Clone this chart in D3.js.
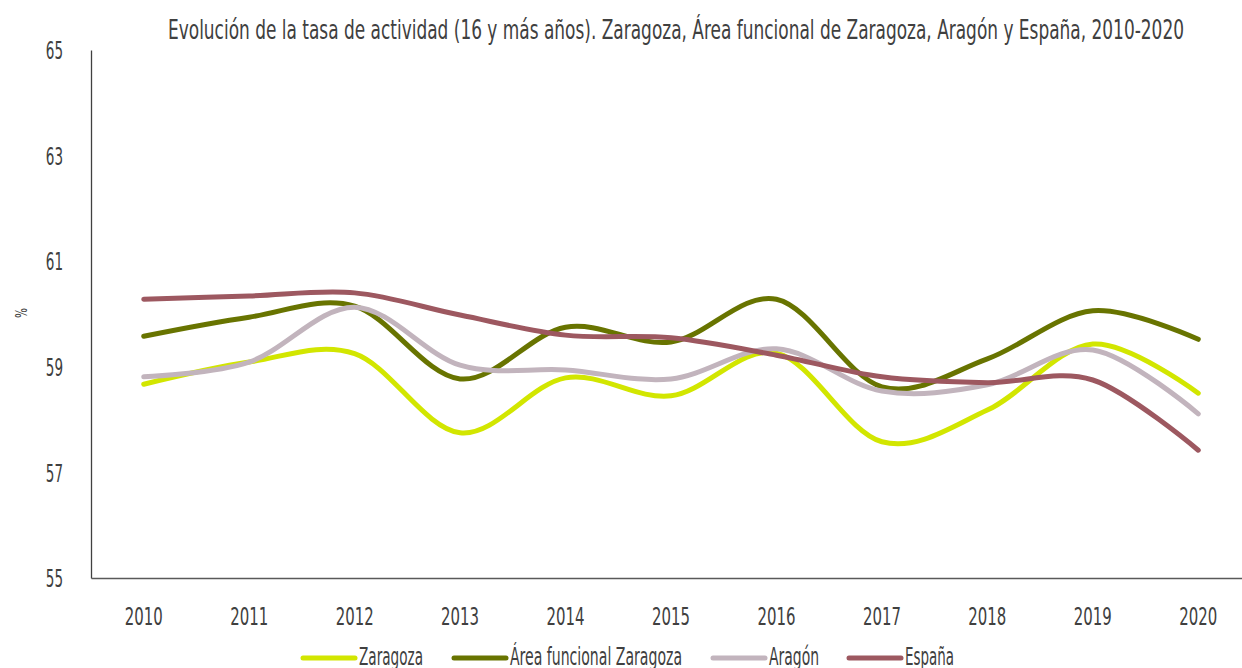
<!DOCTYPE html>
<html>
<head>
<meta charset="utf-8">
<script src="https://cdn.jsdelivr.net/npm/d3@7"></script>
<style>
  body { margin: 0; background: #fff; }
  svg text { font-family: "DejaVu Sans Condensed", "DejaVu Sans", sans-serif; font-stretch: condensed; fill: #404040; }
</style>
</head>
<body>
<svg id="chart" width="1242" height="668"></svg>
<script>
const years = ["2010", "2011", "2012", "2013", "2014", "2015", "2016", "2017", "2018", "2019", "2020"];
const zaragoza = [58.67, 59.09, 59.25, 57.75, 58.79, 58.45, 59.26, 57.58, 58.18, 59.43, 58.50];
const areaFuncional = [59.58, 59.94, 60.15, 58.77, 59.75, 59.47, 60.28, 58.62, 59.15, 60.06, 59.52];
const aragon = [58.81, 59.09, 60.13, 59.03, 58.94, 58.77, 59.34, 58.54, 58.66, 59.32, 58.11];
const espana = [60.28, 60.34, 60.40, 59.98, 59.60, 59.55, 59.22, 58.81, 58.70, 58.75, 57.42];
const yTicks = [55, 57, 59, 61, 63, 65];

const series = [
  { name: "Zaragoza", values: zaragoza, color: "#d2e600" },
  { name: "Área funcional Zaragoza", values: areaFuncional, color: "#687400" },
  { name: "Aragón", values: aragon, color: "#c2b4bd" },
  { name: "España", values: espana, color: "#9d5860" }
];

const svg = d3.select("#chart");

const x = d3.scaleBand().domain(years).range([91, 1251]);
const y = d3.scaleLinear().domain([55, 65]).range([578, 50]);

// narrow the text to match the condensed original font
const squeeze = (sel, perChar) => sel
  .attr("textLength", function() { return this.textContent.length * perChar; })
  .attr("lengthAdjust", "spacingAndGlyphs");

// title
svg.append("text")
  .attr("x", 168).attr("y", 39)
  .style("font-size", "27px")
  .attr("textLength", 1016)
  .attr("lengthAdjust", "spacingAndGlyphs")
  .text("Evolución de la tasa de actividad (16 y más años). Zaragoza, Área funcional de Zaragoza, Aragón y España, 2010-2020");

// y axis
const yAxis = svg.append("g")
  .attr("transform", "translate(91,0)")
  .call(d3.axisLeft(y).tickValues(yTicks).tickSize(0).tickPadding(28));
yAxis.select(".domain").attr("stroke", "#404040").attr("stroke-width", 1.3);
yAxis.selectAll("text")
  .style("font-size", "24px")
  .attr("fill", "#404040")
  .attr("dy", "0.36em")
  .call(squeeze, 8.6);

svg.append("text")
  .attr("transform", "translate(27,313) rotate(-90)")
  .attr("text-anchor", "middle")
  .style("font-size", "16px")
  .attr("textLength", 10)
  .attr("lengthAdjust", "spacingAndGlyphs")
  .text("%");

// x axis
const xAxis = svg.append("g")
  .attr("transform", "translate(0,578)")
  .call(d3.axisBottom(x).tickSize(0));
xAxis.select(".domain").attr("stroke", "#595959").attr("stroke-width", 1.5);
xAxis.selectAll("text")
  .style("font-size", "24px")
  .attr("fill", "#404040")
  .attr("y", 47).attr("dy", 0)
  .call(squeeze, 9.5);

// lines
const line = d3.line()
  .x((d, i) => x(years[i]) + x.bandwidth() / 2)
  .y(d => y(d))
  .curve(d3.curveCatmullRom.alpha(0));

svg.append("g").selectAll("path")
  .data(series)
  .enter()
  .append("path")
  .attr("d", d => line(d.values))
  .attr("fill", "none")
  .attr("stroke", d => d.color)
  .attr("stroke-width", 5)
  .attr("stroke-linecap", "round");

// legend
const legendX = [301, 452, 711, 847];
const legendW = [64, 172, 50, 49];
const legend = svg.append("g").selectAll("g")
  .data(series)
  .enter()
  .append("g")
  .attr("transform", (d, i) => `translate(${legendX[i]},658)`);

legend.append("line")
  .attr("x1", 2).attr("x2", 54)
  .attr("stroke", d => d.color)
  .attr("stroke-width", 5)
  .attr("stroke-linecap", "round");

legend.append("text")
  .attr("x", 58).attr("y", 7)
  .style("font-size", "24px")
  .attr("textLength", (d, i) => legendW[i])
  .attr("lengthAdjust", "spacingAndGlyphs")
  .text(d => d.name);
</script>
</body>
</html>
